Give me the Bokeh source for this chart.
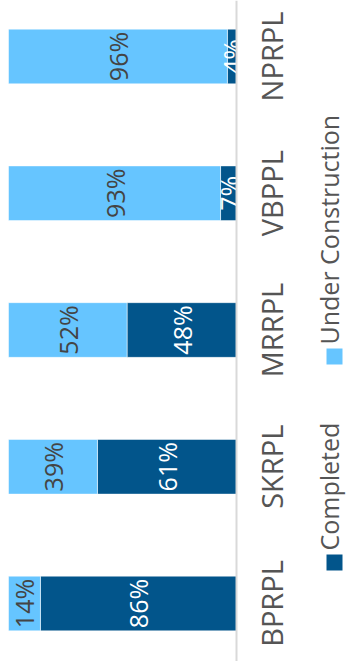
import math
from bokeh.plotting import figure
from bokeh.models import ColumnDataSource, Range1d, Span
from bokeh.core.properties import value
from bokeh.embed import file_html
from bokeh.resources import INLINE

categories = ["BPRPL", "SKRPL", "MRRPL", "VBPPL", "NPRPL"]
completed = [86, 61, 48, 7, 4]
under_construction = [14, 39, 52, 93, 96]
series_names = ["Completed", "Under Construction"]

DARK = "#02558b"
LIGHT = "#66c5ff"
FONT = "Open Sans"

W, H = 346, 661
x_start, x_end = 103.51, -48.24
y_start, y_end = -0.424, 4.4095


def px_x(px):
    return x_start - px * (x_start - x_end) / W


def px_y(py):
    return y_end - py * (y_end - y_start) / H


p = figure(width=W, height=H, output_backend="svg", toolbar_location=None,
           x_range=Range1d(x_start, x_end), y_range=Range1d(y_start, y_end),
           x_axis_location=None, y_axis_location=None, min_border=0)
p.outline_line_color = None
p.xgrid.visible = False
p.ygrid.visible = False
p.background_fill_color = "white"
p.border_fill_color = "white"

idx = list(range(len(categories)))
src = ColumnDataSource(dict(
    y=idx, cat=categories, comp=completed, uc=under_construction,
    uc_left=completed, uc_right=[c + u for c, u in zip(completed, under_construction)],
    comp_mid=[c / 2 for c in completed],
    uc_mid=[c + u / 2 for c, u in zip(completed, under_construction)],
    comp_lbl=[f"{c}%" for c in completed],
    uc_lbl=[f"{u}%" for u in under_construction],
    cat_x=[px_x(270.5)] * len(categories),
))

p.hbar(y="y", left=0, right="comp", height=0.4, source=src,
       fill_color=DARK, line_color="white", line_width=0.5)
p.hbar(y="y", left="uc_left", right="uc_right", height=0.4, source=src,
       fill_color=LIGHT, line_color="white", line_width=0.5)

p.text(x="comp_mid", y="y", text="comp_lbl", source=src, angle=math.pi / 2,
       text_align="center", text_baseline="middle", text_color="white",
       text_font=value(FONT), text_font_size="25px")
p.text(x="uc_mid", y="y", text="uc_lbl", source=src, angle=math.pi / 2,
       text_align="center", text_baseline="middle", text_color="#444444",
       text_font=value(FONT), text_font_size="25px")

# category axis line
p.add_layout(Span(location=0, dimension="height", line_color="#d9d9d9", line_width=2))

# category labels
p.text(x="cat_x", y="y", text="cat", source=src, angle=math.pi / 2,
       text_align="center", text_baseline="middle", text_color="#555555",
       text_font=value(FONT), text_font_size="29px")

# legend
leg = ColumnDataSource(dict(
    sx=[px_x(334), px_x(334)],
    sy=[px_y(562), px_y(356)],
    tx=[px_x(328.5), px_x(328.5)],
    ty=[px_y(550), px_y(344)],
    name=series_names,
    col=[DARK, LIGHT],
))
p.scatter(x="sx", y="sy", source=leg, marker="square", size=16,
          fill_color="col", line_color=None)
p.text(x="tx", y="ty", text="name", source=leg, angle=math.pi / 2,
       text_align="left", text_baseline="middle", text_color="#555555",
       text_font=value(FONT), text_font_size="25px")

open("out.html", "w").write(file_html(p, INLINE))
